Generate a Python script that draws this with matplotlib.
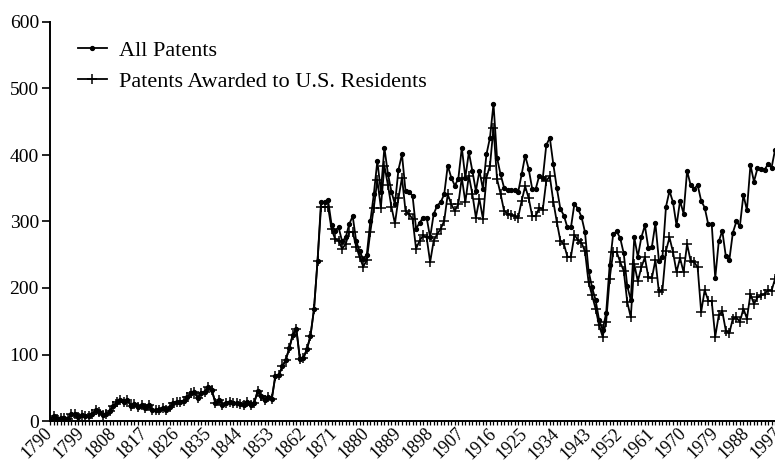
import matplotlib
matplotlib.use("Agg")
import matplotlib.pyplot as plt
from matplotlib.ticker import MultipleLocator

plt.rcParams['font.family'] = ['Liberation Serif', 'DejaVu Serif']

years = list(range(1790, 1998))

all_patents = [
    1, 8, 3, 5, 5, 3, 10, 11, 6, 9,                      # 1790-1799
    8, 8, 11, 16, 14, 9, 10, 15, 23, 28,                 # 1800-1809
    31, 29, 31, 23, 26, 21, 24, 20, 24, 17,              # 1810-1819
    16, 17, 20, 16, 21, 27, 28, 28, 30, 36,              # 1820-1829
    42, 43, 35, 42, 44, 51, 46, 27, 32, 24,              # 1830-1839
    27, 28, 27, 27, 25, 24, 28, 24, 27, 45,              # 1840-1849
    38, 31, 36, 33, 67, 69, 82, 92, 110, 130,            # 1850-1859
    138, 93, 95, 108, 128, 168, 240, 329, 329, 332,      # 1860-1869
    295, 286, 291, 270, 276, 296, 308, 270, 255, 243,    # 1870-1879
    250, 300, 341, 391, 345, 411, 372, 345, 326, 378,    # 1880-1889
    401, 346, 344, 339, 289, 298, 306, 306, 276, 311,    # 1890-1899
    324, 329, 341, 384, 366, 354, 364, 411, 366, 404,    # 1900-1909
    376, 346, 376, 349, 401, 426, 477, 396, 371, 351,    # 1910-1919
    347, 347, 347, 344, 371, 399, 379, 349, 349, 369,    # 1920-1929
    365, 415, 426, 386, 350, 319, 309, 291, 291, 327,    # 1930-1939
    319, 307, 284, 226, 201, 182, 152, 137, 162, 234,    # 1940-1949
    281, 285, 275, 252, 203, 182, 276, 247, 276, 294,    # 1950-1959
    260, 262, 297, 241, 246, 322, 346, 329, 294, 331,    # 1960-1969
    312, 376, 355, 349, 355, 331, 321, 296, 296, 215,    # 1970-1979
    270, 286, 248, 242, 283, 300, 293, 340, 317, 385,    # 1980-1989
    360, 380, 379, 378, 386, 381, 408, 411,              # 1990-1997
]

us_residents = [
    1, 8, 3, 5, 5, 3, 10, 11, 6, 9,                      # 1790-1799
    8, 8, 11, 16, 14, 9, 10, 15, 23, 28,                 # 1800-1809
    31, 29, 31, 23, 26, 21, 24, 20, 24, 17,              # 1810-1819
    16, 17, 20, 16, 21, 27, 28, 28, 30, 36,              # 1820-1829
    42, 43, 35, 42, 44, 51, 46, 27, 32, 24,              # 1830-1839
    27, 28, 27, 27, 25, 24, 28, 24, 27, 45,              # 1840-1849
    38, 31, 36, 33, 67, 69, 82, 92, 110, 130,            # 1850-1859
    138, 93, 95, 108, 128, 168, 240, 322, 322, 322,      # 1860-1869
    288, 274, 271, 259, 266, 284, 284, 262, 246, 232,    # 1870-1879
    242, 284, 321, 362, 321, 384, 355, 322, 297, 335,    # 1880-1889
    366, 316, 311, 304, 259, 271, 279, 276, 239, 271,    # 1890-1899
    281, 289, 301, 341, 326, 316, 326, 366, 329, 369,    # 1900-1909
    341, 306, 334, 304, 366, 384, 441, 364, 342, 316,    # 1910-1919
    312, 310, 308, 306, 331, 353, 335, 308, 308, 321,    # 1920-1929
    318, 361, 368, 330, 299, 271, 266, 247, 247, 280,    # 1930-1939
    272, 268, 255, 209, 189, 169, 144, 127, 149, 214,    # 1940-1949
    254, 254, 239, 226, 179, 156, 236, 210, 231, 246,    # 1950-1959
    216, 215, 242, 194, 197, 256, 276, 254, 224, 245,    # 1960-1969
    224, 266, 241, 239, 231, 164, 197, 181, 180, 127,    # 1970-1979
    159, 165, 136, 132, 154, 156, 149, 169, 154, 191,    # 1980-1989
    176, 186, 189, 191, 197, 196, 214, 216,              # 1990-1997
]

tick_years = [1790, 1799, 1808, 1817, 1826, 1835, 1844, 1853, 1862, 1871,
              1880, 1889, 1898, 1907, 1916, 1925, 1934, 1943, 1952, 1961,
              1970, 1979, 1988, 1997]
tick_labels = [str(y) for y in tick_years]
y_ticks = [0, 100, 200, 300, 400, 500, 600]

W, H = 775, 465
fig = plt.figure(figsize=(W / 100, H / 100), dpi=100)
ax = fig.add_axes([50 / W, 44 / H, 728.6 / W, 399 / H])

ax.plot(years, all_patents, color='black', lw=1.3, marker='o', ms=2.8,
        label='All Patents')
ax.plot(years, us_residents, color='black', lw=1.3, marker='+', ms=6.5,
        mew=1.1, label='Patents Awarded to U.S. Residents')

ax.set_xlim(1790, 1997)
ax.set_ylim(0, 600)
for s in ('top', 'right'):
    ax.spines[s].set_visible(False)
for s in ('left', 'bottom'):
    ax.spines[s].set_linewidth(1.4)

ax.set_yticks(y_ticks)
ax.tick_params(axis='y', direction='out', length=6, width=1.2, labelsize=14, pad=2)
ax.set_xticks(tick_years)
ax.set_xticklabels(tick_labels, rotation=45, ha='right', va='center',
                   rotation_mode='anchor')
ax.xaxis.set_minor_locator(MultipleLocator(1))
ax.tick_params(axis='x', which='both', direction='out', length=2.6, width=0.9,
               labelsize=13, pad=4.5)

ax.legend(loc='upper left', bbox_to_anchor=(78 / W, 1 - 40 / H),
          bbox_transform=fig.transFigure, frameon=False, fontsize=16,
          handlelength=1.3, handletextpad=0.55, labelspacing=0.48,
          borderpad=0, borderaxespad=0, numpoints=1)

fig.savefig('out.png', dpi=100)
